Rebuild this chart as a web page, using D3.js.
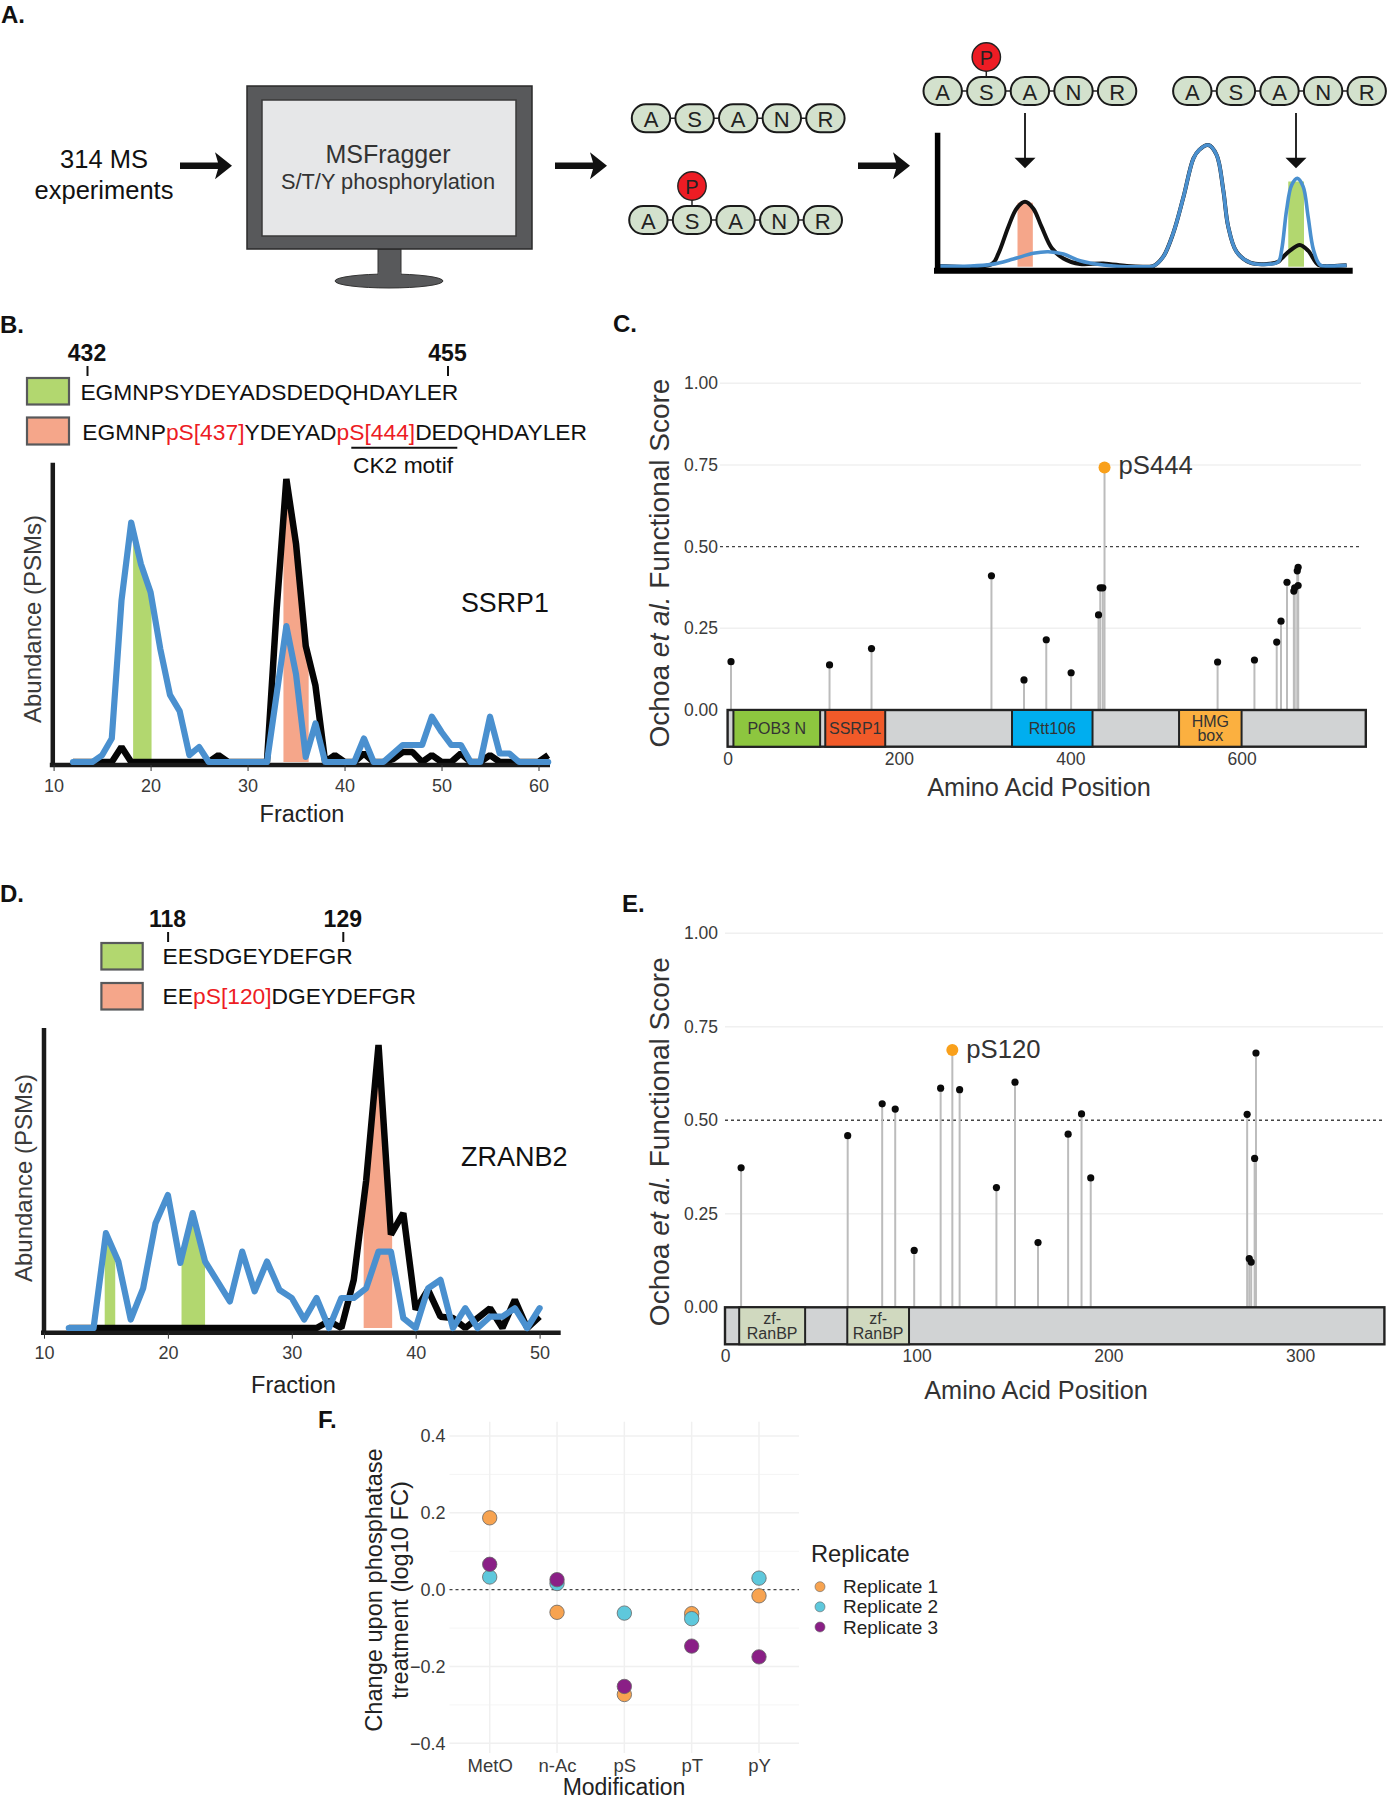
<!DOCTYPE html>
<html lang="en">
<head>
  <meta charset="utf-8">
  <title>Phosphorylation figure</title>
  <style>
    body { margin: 0; background: white; }
    svg { display: block; font-family: "Liberation Sans", Arial, sans-serif; }
    .tick text { fill: #3a3a3a; }
  </style>
</head>
<body>
<svg id="fig" width="1387" height="1800"></svg>

<script src="https://d3js.org/d3.v7.min.js"></script>
<script>
  // 1. Data

  // panel A, schematic traces (x position 0-100, height 0-100)
  var schemBlack = [[0.6,0.5],[13.1,2.2],[14.7,11],[17.1,32.9],[19.1,47.9],[21.1,53.4],[23.1,47.9],[25.1,32.9],[27.6,15.1],[30.4,6.8],[34.4,2.2],[40,2.7],[45.7,0.5],[50.5,0],[52.1,0.5],[54.5,8.2],[56.9,27.4],[59.4,57.5],[61.8,89],[63.2,96],[65.4,100],[67.4,91.8],[69,63],[70.2,32.9],[72.2,12.3],[75.5,3.3],[79.5,2.2],[82.3,4.1],[83.1,6.8],[85.1,13.2],[87.5,17.8],[89.5,13.2],[92,1.4],[94.8,0.5],[98.8,1.1]];
  var schemBlue = [[0.6,0.5],[7.8,0.5],[13.1,1.9],[18.3,6.3],[23.1,11],[26.7,12.3],[30.4,10.4],[34.4,4.9],[40,1.4],[45.7,0],[50.5,0],[52.1,0.5],[54.5,8.2],[56.9,27.4],[59.4,57.5],[61.8,89],[63.2,96],[65.4,100],[67.4,91.8],[69,63],[70.2,32.9],[72.2,12.3],[75.5,3.3],[79.5,1.9],[82.3,4.1],[83.1,13.7],[84.3,46.6],[85.5,67],[86.9,72.6],[88.3,65.8],[89.5,41],[90.8,13.7],[92.4,1.4],[94.8,0.5],[98.8,1.1]];
  var residues = ["A", "S", "A", "N", "R"];

  // panel B
  var fractionsB = [12,13,14,15,16,17,18,19,20,21,22,23,24,25,26,27,28,29,30,31,32,33,34,35,36,37,38,39,40,41,42,43,44,45,46,47,48,49,50,51,52,53,54,55,56,57,58,59,60,61];
  var blackB = [0,0,0,0,0,5.3,0,0,0,0,0,0,0,0,0,2.4,0,0,0,0,0,54,100,77,41,27,0,2.4,0,0,3,0,0,1,3.5,3.5,0,2.4,0,0,3,0,0,2.4,0,0,0,0,0,2.4];
  var blueB = [0,0,0,2.4,8.3,57,84.6,70,60,40,23.7,18,2.4,5.3,0,0,0,0,0,0,0,24,48,31,1.8,13.6,0,0,0,0,8.3,0,0,3,6,6,6,16,10.6,6,6,0,0,16,3,3,0,0,0,0];
  var ticksB = [10, 20, 30, 40, 50, 60];

  // panel D
  var fractionsD = [12,13,14,15,16,17,18,19,20,21,22,23,24,25,26,27,28,29,30,31,32,33,34,35,36,37,38,39,40,41,42,43,44,45,46,47,48,49,50];
  var blackD = [0,0,0,0,0,0,0,0,0,0,0,0,0,0,0,0,0,0,0,0,0,2.4,0,17,52,100,33,40.6,6.5,13.5,4,3.5,0,3.5,7,0,10,0,4];
  var blueD = [0,0,0,33.5,23.5,3,14,37,47,23,40.6,23.5,16.5,9.4,27,13,23.5,13.5,10.6,3,10.6,0,10.6,10.6,14,27,27,3.5,0,14,17,0,7,0,4,4,7,0,7];
  var ticksD = [10, 20, 30, 40, 50];

  // panel C
  var posC = [4,119,168,308,346,372,401,433,435,438,572,615,641,646,653,661,662,665,666,666];
  var scoreC = [.148,.138,.188,.411,.092,.215,.114,.291,.374,.374,.147,.153,.208,.272,.391,.364,.374,.426,.437,.381];
  var domainStartC = [6.8, 114, 332, 527];
  var domainEndC = [108, 184, 426, 600];
  var domainNameC = [["POB3 N"], ["SSRP1"], ["Rtt106"], ["HMG", "box"]];
  var domainColorC = ["#8dc63f", "#f15a29", "#00aeef", "#fbb040"];

  // panel E
  var posE = [8.4,64,82,88.8,98.7,112.5,122.4,141.6,151.3,163.3,179,186,190.8,272.4,273.5,274.5,276.3,277];
  var scoreE = [.373,.459,.544,.530,.152,.586,.582,.320,.602,.173,.463,.517,.346,.516,.130,.121,.398,.680];
  var domainStartE = [7.4, 63.8];
  var domainEndE = [41.8, 96];
  var domainNameE = [["zf-", "RanBP"], ["zf-", "RanBP"]];
  var domainColorE = ["#d0d9bf", "#d0d9bf"];

  // panel F
  var modifications = ["MetO", "n-Ac", "pS", "pT", "pY"];
  var replicates = ["Replicate 1", "Replicate 2", "Replicate 3"];
  var repColors = ["#f7a350", "#5ec8dc", "#8a1f86"];
  var rep1 = [.187, -.059, -.273, -.0625, -.016];
  var rep2 = [.033, .016, -.061, -.0755, .03];
  var rep3 = [.066, .026, -.252, -.147, -.175];

  var INK = "#2b2b2b", LINE_BLUE = "#4a90cf", GREEN = "#b2d76f", SALMON = "#f5a68a";
  var svg = d3.select("#fig");
  var clipId = 0;

  function label(x, y, str, size, opts) {
    opts = opts || {};
    var t = svg.append("text")
      .attr("x", x).attr("y", y)
      .attr("font-size", size)
      .attr("fill", opts.fill || INK)
      .attr("font-weight", opts.weight || null)
      .attr("text-anchor", opts.anchor || "middle")
      .attr("dominant-baseline", "central")
      .text(str);
    if (opts.rotate) t.attr("transform", "rotate(-90," + x + "," + y + ")");
    return t;
  }

  function panelLetter(x, y, str) {
    svg.append("text").attr("x", x).attr("y", y)
      .attr("font-size", 24).attr("font-weight", "bold").attr("fill", "#111").text(str);
  }

  // filled band below a trace, cut to a fraction range through a clip
  function band(g, x, y, points, lo, hi, color) {
    var id = "clip" + (clipId++);
    svg.append("clipPath").attr("id", id).append("rect")
      .attr("x", x(lo)).attr("width", x(hi) - x(lo))
      .attr("y", 0).attr("height", 1800);
    g.append("path")
      .attr("clip-path", "url(#" + id + ")")
      .attr("fill", color)
      .attr("d", d3.area().x(d => x(d[0])).y0(y(0)).y1(d => y(d[1]))(points));
  }

  // 2. Panel A
  function bigArrow(x, y) {
    svg.append("path").attr("transform", "translate(" + x + "," + y + ")")
      .attr("fill", "#111")
      .attr("d", "M0,-3.2H38L35,-13.5L52,0L35,13.5L38,3.2H0Z");
  }

  function chain(x0, y0, phospho) {
    var x = d3.scalePoint().domain(d3.range(residues.length)).range([x0, x0 + 174.4]);
    svg.append("line").attr("x1", x0).attr("x2", x0 + 174.4).attr("y1", y0).attr("y2", y0)
      .attr("stroke", "#222").attr("stroke-width", 1.5);
    if (phospho) {
      svg.append("line").attr("x1", x(1)).attr("x2", x(1)).attr("y1", y0 - 34).attr("y2", y0)
        .attr("stroke", "#222").attr("stroke-width", 1.5);
      svg.append("circle").attr("cx", x(1)).attr("cy", y0 - 34).attr("r", 14.2)
        .attr("fill", "#ed1c24").attr("stroke", "#222").attr("stroke-width", 1.4);
      label(x(1), y0 - 33.5, "P", 20, { fill: "#222" });
    }
    residues.forEach(function(r, i) {
      svg.append("rect").attr("x", x(i) - 19.2).attr("y", y0 - 14).attr("width", 38.4).attr("height", 28)
        .attr("rx", 14).attr("ry", 14)
        .attr("fill", "#d3e1cd").attr("stroke", "#1a1a1a").attr("stroke-width", 2);
      label(x(i), y0 + 1, r, 22, { fill: "#222" });
    });
  }

  function downArrow(x) {
    svg.append("line").attr("x1", x).attr("x2", x).attr("y1", 113).attr("y2", 158)
      .attr("stroke", "#111").attr("stroke-width", 1.8);
    svg.append("path").attr("transform", "translate(" + x + ",168.3)")
      .attr("fill", "#111").attr("d", "M-10.5,-10.6H10.5L0,0Z");
  }

  function drawPanelA() {
    panelLetter(1, 23, "A.");
    label(104, 159, "314 MS", 25.5, { fill: "#111" });
    label(104, 190, "experiments", 25.5, { fill: "#111" });
    bigArrow(180, 165.7);
    bigArrow(555, 165.7);
    bigArrow(858, 165.7);

    // monitor
    svg.append("rect").attr("x", 378).attr("y", 249).attr("width", 23).attr("height", 33).attr("fill", "#58595b").attr("stroke", "#333");
    svg.append("ellipse").attr("cx", 389).attr("cy", 281).attr("rx", 54).attr("ry", 7).attr("fill", "#58595b").attr("stroke", "#333");
    svg.append("rect").attr("x", 378).attr("y", 272).attr("width", 23).attr("height", 8).attr("fill", "#58595b");
    svg.append("rect").attr("x", 247).attr("y", 86).attr("width", 285).attr("height", 163).attr("fill", "#58595b").attr("stroke", "#2a2a2a").attr("stroke-width", 1.5);
    svg.append("rect").attr("x", 262).attr("y", 100).attr("width", 254).attr("height", 136).attr("fill", "#e6e7e8").attr("stroke", "#3a3a3a").attr("stroke-width", 1.5);
    label(388, 154, "MSFragger", 25, { fill: "#333" });
    label(388, 181, "S/T/Y phosphorylation", 21.8, { fill: "#333" });

    chain(651, 118.3, false);
    chain(648.4, 220, true);
    chain(942.7, 91, true);
    chain(1192.3, 91, false);
    downArrow(1025);
    downArrow(1296);

    var x = d3.scaleLinear().domain([0, 100]).range([937.6, 1351.6]);
    var y = d3.scaleLinear().domain([0, 100]).range([266.7, 145]);
    var g = svg.append("g");
    var lineFn = d3.line().x(d => x(d[0])).y(d => y(d[1])).curve(d3.curveCatmullRom.alpha(0.5));
    g.append("rect").attr("x", x(19.3)).attr("width", x(23) - x(19.3))
      .attr("y", y(52.6)).attr("height", y(0) - y(52.6)).attr("fill", SALMON);
    g.append("rect").attr("x", x(84.7)).attr("width", x(88.5) - x(84.7))
      .attr("y", y(70)).attr("height", y(0) - y(70)).attr("fill", GREEN);
    g.append("path").attr("d", lineFn(schemBlack)).attr("fill", "none").attr("stroke", "#111").attr("stroke-width", 4);
    g.append("path").attr("d", lineFn(schemBlue)).attr("fill", "none").attr("stroke", LINE_BLUE).attr("stroke-width", 3.6);
    svg.append("line").attr("x1", 937.6).attr("x2", 937.6).attr("y1", 132.7).attr("y2", 273).attr("stroke", "#000").attr("stroke-width", 5.5);
    svg.append("line").attr("x1", 934).attr("x2", 1352.7).attr("y1", 270.7).attr("y2", 270.7).attr("stroke", "#000").attr("stroke-width", 6);
  }

  // 3. Panels B and D: fraction traces
  function drawFraction(cfg) {
    var x = d3.scaleLinear().domain(cfg.xDomain).range(cfg.xRange);
    var y = d3.scaleLinear().domain([0, 100]).range(cfg.yRange);
    var black = cfg.fractions.map((f, i) => [f, cfg.black[i]]);
    var blue = cfg.fractions.map((f, i) => [f, cfg.blue[i]]);
    var g = svg.append("g");

    cfg.green.forEach(b => band(g, x, y, blue, b[0], b[1], GREEN));
    cfg.salmon.forEach(b => band(g, x, y, black, b[0], b[1], SALMON));

    var lineFn = d3.line().x(d => x(d[0])).y(d => y(d[1]));
    g.append("path").attr("d", lineFn(black)).attr("fill", "none").attr("stroke", "#050505")
      .attr("stroke-width", 6.5).attr("stroke-linejoin", "bevel");
    g.append("line").attr("x1", cfg.axisX - 3).attr("x2", cfg.axisEnd).attr("y1", cfg.axisY).attr("y2", cfg.axisY)
      .attr("stroke", "#1a1a1a").attr("stroke-width", 4.5);
    g.append("line").attr("x1", cfg.axisX).attr("x2", cfg.axisX).attr("y1", cfg.axisTop).attr("y2", cfg.axisY)
      .attr("stroke", "#1a1a1a").attr("stroke-width", 4.5);
    g.append("path").attr("d", lineFn(blue)).attr("fill", "none").attr("stroke", LINE_BLUE)
      .attr("stroke-width", 6.2).attr("stroke-linejoin", "round").attr("stroke-linecap", "round");

    var axis = svg.append("g").attr("transform", "translate(0," + cfg.axisY + ")")
      .call(d3.axisBottom(x).tickValues(cfg.ticks).tickSize(6).tickPadding(8));
    axis.select(".domain").remove();
    axis.selectAll("line").attr("stroke", "#333");
    axis.selectAll("text").attr("font-size", 18).attr("font-family", "inherit");

    label(cfg.ylabelX, cfg.ylabelY, "Abundance (PSMs)", 24, { rotate: true, fill: "#3a3a3a" });
    label(cfg.xlabelX, cfg.xlabelY, "Fraction", 23.5, { fill: "#222" });
    label(cfg.nameX, cfg.nameY, cfg.name, cfg.nameSize, { anchor: "start", fill: "#111" });
  }

  // peptide row: list of [text, red?] pieces
  function sequence(x, y, pieces) {
    var t = svg.append("text").attr("x", x).attr("y", y).attr("font-size", 22.8)
      .attr("dominant-baseline", "central").attr("fill", "#111");
    pieces.forEach(function(p) {
      t.append("tspan").attr("fill", p[1] ? "#ed1c24" : "#111").text(p[0]);
    });
  }

  function swatch(x, y, w, h, color) {
    svg.append("rect").attr("x", x).attr("y", y).attr("width", w).attr("height", h)
      .attr("fill", color).attr("stroke", "#58595b").attr("stroke-width", 2.2);
  }

  function site(x, y, str) {
    label(x, y, str, 23, { weight: "bold", fill: "#111" });
    svg.append("line").attr("x1", x + 0.5).attr("x2", x + 0.5).attr("y1", y + 13).attr("y2", y + 23)
      .attr("stroke", "#111").attr("stroke-width", 2);
  }

  // 4. Panels C and E: lollipops over a domain track
  function drawLollipop(cfg) {
    var x = d3.scaleLinear().domain(cfg.xDomain).range(cfg.xRange);
    var y = d3.scaleLinear().domain([0, 1]).range(cfg.yRange);
    var g = svg.append("g");

    g.selectAll(".grid").data([0.25, 0.75, 1]).enter().append("line")
      .attr("x1", cfg.gridX[0]).attr("x2", cfg.gridX[1])
      .attr("y1", d => y(d)).attr("y2", d => y(d))
      .attr("stroke", "#f0f0f0").attr("stroke-width", 1.5);
    g.append("line").attr("x1", cfg.gridX[0]).attr("x2", cfg.gridX[1])
      .attr("y1", y(0.5)).attr("y2", y(0.5))
      .attr("stroke", "#444").attr("stroke-width", 1.4).attr("stroke-dasharray", "3,3");

    var pts = cfg.pos.map((p, i) => ({ p: p, s: cfg.score[i] }));
    pts.push({ p: cfg.hit[0], s: cfg.hit[1], hit: true });
    g.selectAll(".stem").data(pts).enter().append("line")
      .attr("x1", d => x(d.p)).attr("x2", d => x(d.p))
      .attr("y1", y(0)).attr("y2", d => y(d.s))
      .attr("stroke", "#bcbcbc").attr("stroke-width", 2);
    g.selectAll(".dot").data(pts).enter().append("circle")
      .attr("cx", d => x(d.p)).attr("cy", d => y(d.s))
      .attr("r", d => d.hit ? 6 : 3.6)
      .attr("fill", d => d.hit ? "#f9a01b" : "#0a0a0a");

    // domain track
    var top = y(0), h = cfg.trackH;
    g.append("rect").attr("x", x(0)).attr("y", top).attr("width", x(cfg.xDomain[1]) - x(0)).attr("height", h)
      .attr("fill", "#d1d3d4").attr("stroke", "#222").attr("stroke-width", 2.4);
    cfg.starts.forEach(function(s, i) {
      g.append("rect").attr("x", x(s)).attr("y", top).attr("width", x(cfg.ends[i]) - x(s)).attr("height", h)
        .attr("fill", cfg.colors[i]).attr("stroke", "#222").attr("stroke-width", 2);
      var names = cfg.names[i];
      names.forEach(function(n, k) {
        var cy = top + h / 2 + (k - (names.length - 1) / 2) * 14.5;
        label((x(s) + x(cfg.ends[i])) / 2, cy, n, 16, { fill: "#333" });
      });
    });

    var ax = svg.append("g").attr("transform", "translate(0," + (top + h) + ")")
      .call(d3.axisBottom(x).tickValues(cfg.xTicks).tickSize(0).tickPadding(cfg.xPad));
    ax.select(".domain").remove();
    ax.selectAll("text").attr("font-size", 17.5).attr("font-family", "inherit");

    var ay = svg.append("g").attr("transform", "translate(" + cfg.gridX[0] + ",0)")
      .call(d3.axisLeft(y).tickValues([0, 0.25, 0.5, 0.75, 1]).tickFormat(d3.format(".2f")).tickSize(0).tickPadding(cfg.yPad));
    ay.select(".domain").remove();
    ay.selectAll("text").attr("font-size", 17.5).attr("font-family", "inherit");

    var t = label(659, cfg.ylabelY, "", 28, { rotate: true, fill: "#333" });
    t.append("tspan").text("Ochoa ");
    t.append("tspan").attr("font-style", "italic").text("et al.");
    t.append("tspan").text(" Functional Score");
    label(cfg.xlabel[0], cfg.xlabel[1], "Amino Acid Position", 25.3, { fill: "#333" });
    label(x(cfg.hit[0]) + 14, y(cfg.hit[1]) + cfg.hitDy, cfg.hitName, 25.7, { anchor: "start", fill: "#333" });
  }

  // 5. Panel F
  function drawPanelF() {
    var x = d3.scalePoint().domain(modifications).range([489.7, 759]);
    var y = d3.scaleLinear().domain([-0.4, 0.4]).range([1743.3, 1436]);
    var g = svg.append("g");

    g.selectAll(".minor").data([-0.3, -0.1, 0.1, 0.3]).enter().append("line")
      .attr("x1", 449.5).attr("x2", 799).attr("y1", d => y(d)).attr("y2", d => y(d))
      .attr("stroke", "#f5f5f5").attr("stroke-width", 1);
    g.selectAll(".major").data([-0.4, -0.2, 0.2, 0.4]).enter().append("line")
      .attr("x1", 449.5).attr("x2", 799).attr("y1", d => y(d)).attr("y2", d => y(d))
      .attr("stroke", "#f0f0f0").attr("stroke-width", 1.5);
    g.selectAll(".vert").data(modifications).enter().append("line")
      .attr("x1", d => x(d)).attr("x2", d => x(d)).attr("y1", 1421.7).attr("y2", 1753)
      .attr("stroke", "#f0f0f0").attr("stroke-width", 1.5);
    g.append("line").attr("x1", 449.5).attr("x2", 799).attr("y1", y(0)).attr("y2", y(0))
      .attr("stroke", "#444").attr("stroke-width", 1.4).attr("stroke-dasharray", "3,3");

    [rep1, rep2, rep3].forEach(function(vals, r) {
      g.selectAll(".rep" + r).data(vals).enter().append("circle")
        .attr("cx", (d, i) => x(modifications[i])).attr("cy", d => y(d))
        .attr("r", 7.2).attr("fill", repColors[r])
        .attr("stroke", "#666").attr("stroke-width", 0.8);
    });

    var ax = svg.append("g").attr("transform", "translate(0,1754)")
      .call(d3.axisBottom(x).tickSize(0).tickPadding(5));
    ax.select(".domain").remove();
    ax.selectAll("text").attr("font-size", 18.5).attr("font-family", "inherit");
    var ay = svg.append("g").attr("transform", "translate(449.5,0)")
      .call(d3.axisLeft(y).tickValues([-0.4, -0.2, 0, 0.2, 0.4]).tickFormat(d3.format(".1f")).tickSize(0).tickPadding(4));
    ay.select(".domain").remove();
    ay.selectAll("text").attr("font-size", 18).attr("font-family", "inherit");

    label(373.7, 1590, "Change upon phosphatase", 23.6, { rotate: true, fill: "#222" });
    label(400.4, 1590, "treatment (log10 FC)", 23.6, { rotate: true, fill: "#222" });
    label(624, 1787, "Modification", 23, { fill: "#222" });

    label(811, 1554, "Replicate", 23.7, { anchor: "start", fill: "#222" });
    var legendY = d3.scalePoint().domain(replicates).range([1586.7, 1627]);
    replicates.forEach(function(r, i) {
      svg.append("circle").attr("cx", 820).attr("cy", legendY(r)).attr("r", 5)
        .attr("fill", repColors[i]).attr("stroke", "#666").attr("stroke-width", 0.6);
      label(843, legendY(r), r, 19, { anchor: "start", fill: "#222" });
    });
  }

  // 6. Draw it all
  drawPanelA();

  panelLetter(0, 332.7, "B.");
  site(87, 353, "432");
  site(447.5, 353, "455");
  swatch(27, 378, 42, 26.5, GREEN);
  swatch(27, 417.5, 42, 27, SALMON);
  sequence(80.4, 392.3, [["EGMNPSYDEYADSDEDQHDAYLER", false]]);
  sequence(82.3, 432.3, [["EGMNP", false], ["pS[437]", true], ["YDEYAD", false], ["pS[444]", true], ["DEDQHDAYLER", false]]);
  svg.append("line").attr("x1", 351.3).attr("x2", 457.3).attr("y1", 447.7).attr("y2", 447.7).attr("stroke", "#111").attr("stroke-width", 2);
  label(403, 465.3, "CK2 motif", 22.8, { fill: "#111" });
  drawFraction({
    fractions: fractionsB, black: blackB, blue: blueB, ticks: ticksB,
    xDomain: [10, 60], xRange: [53.6, 538.5], yRange: [762, 479],
    axisX: 52.8, axisY: 765, axisTop: 462.7, axisEnd: 550,
    green: [[18.2, 20.1]], salmon: [[33.7, 36.3]],
    ylabelX: 32.5, ylabelY: 619, xlabelX: 302, xlabelY: 814,
    name: "SSRP1", nameX: 461, nameY: 602.7, nameSize: 26.8
  });

  panelLetter(613, 332, "C.");
  drawLollipop({
    pos: posC, score: scoreC, hit: [440, 0.742], hitName: "pS444", hitDy: -3,
    xDomain: [0, 745], xRange: [727.6, 1365.8], yRange: [710, 383.3],
    gridX: [720, 1361], trackH: 36.7, xTicks: [0, 200, 400, 600], xPad: 5.5, yPad: 2,
    starts: domainStartC, ends: domainEndC, names: domainNameC, colors: domainColorC,
    ylabelY: 563, xlabel: [1039, 786.7]
  });

  panelLetter(0, 901.7, "D.");
  site(167.6, 919, "118");
  site(342.8, 919, "129");
  swatch(101.4, 943, 41.3, 26.5, GREEN);
  swatch(101.4, 983, 41.3, 26.5, SALMON);
  sequence(162.6, 955.7, [["EESDGEYDEFGR", false]]);
  sequence(162.6, 995.7, [["EE", false], ["pS[120]", true], ["DGEYDEFGR", false]]);
  drawFraction({
    fractions: fractionsD, black: blackD, blue: blueD, ticks: ticksD,
    xDomain: [10, 50], xRange: [44, 539.6], yRange: [1328, 1045],
    axisX: 44, axisY: 1332.7, axisTop: 1028, axisEnd: 560.7,
    green: [[14.9, 15.75], [21.1, 23]], salmon: [[35.8, 38.1]],
    ylabelX: 23.7, ylabelY: 1178, xlabelX: 293.5, xlabelY: 1385,
    name: "ZRANB2", nameX: 461, nameY: 1156.7, nameSize: 27
  });

  panelLetter(622, 911.7, "E.");
  drawLollipop({
    pos: posE, score: scoreE, hit: [118.6, 0.688], hitName: "pS120", hitDy: -1,
    xDomain: [0, 344], xRange: [725, 1384.4], yRange: [1307.3, 933.3],
    gridX: [725, 1383], trackH: 37, xTicks: [0, 100, 200, 300], xPad: 5.5, yPad: 7,
    starts: domainStartE, ends: domainEndE, names: domainNameE, colors: domainColorE,
    ylabelY: 1141.7, xlabel: [1036, 1390]
  });

  panelLetter(318, 1428, "F.");
  drawPanelF();
</script>
</body>
</html>
